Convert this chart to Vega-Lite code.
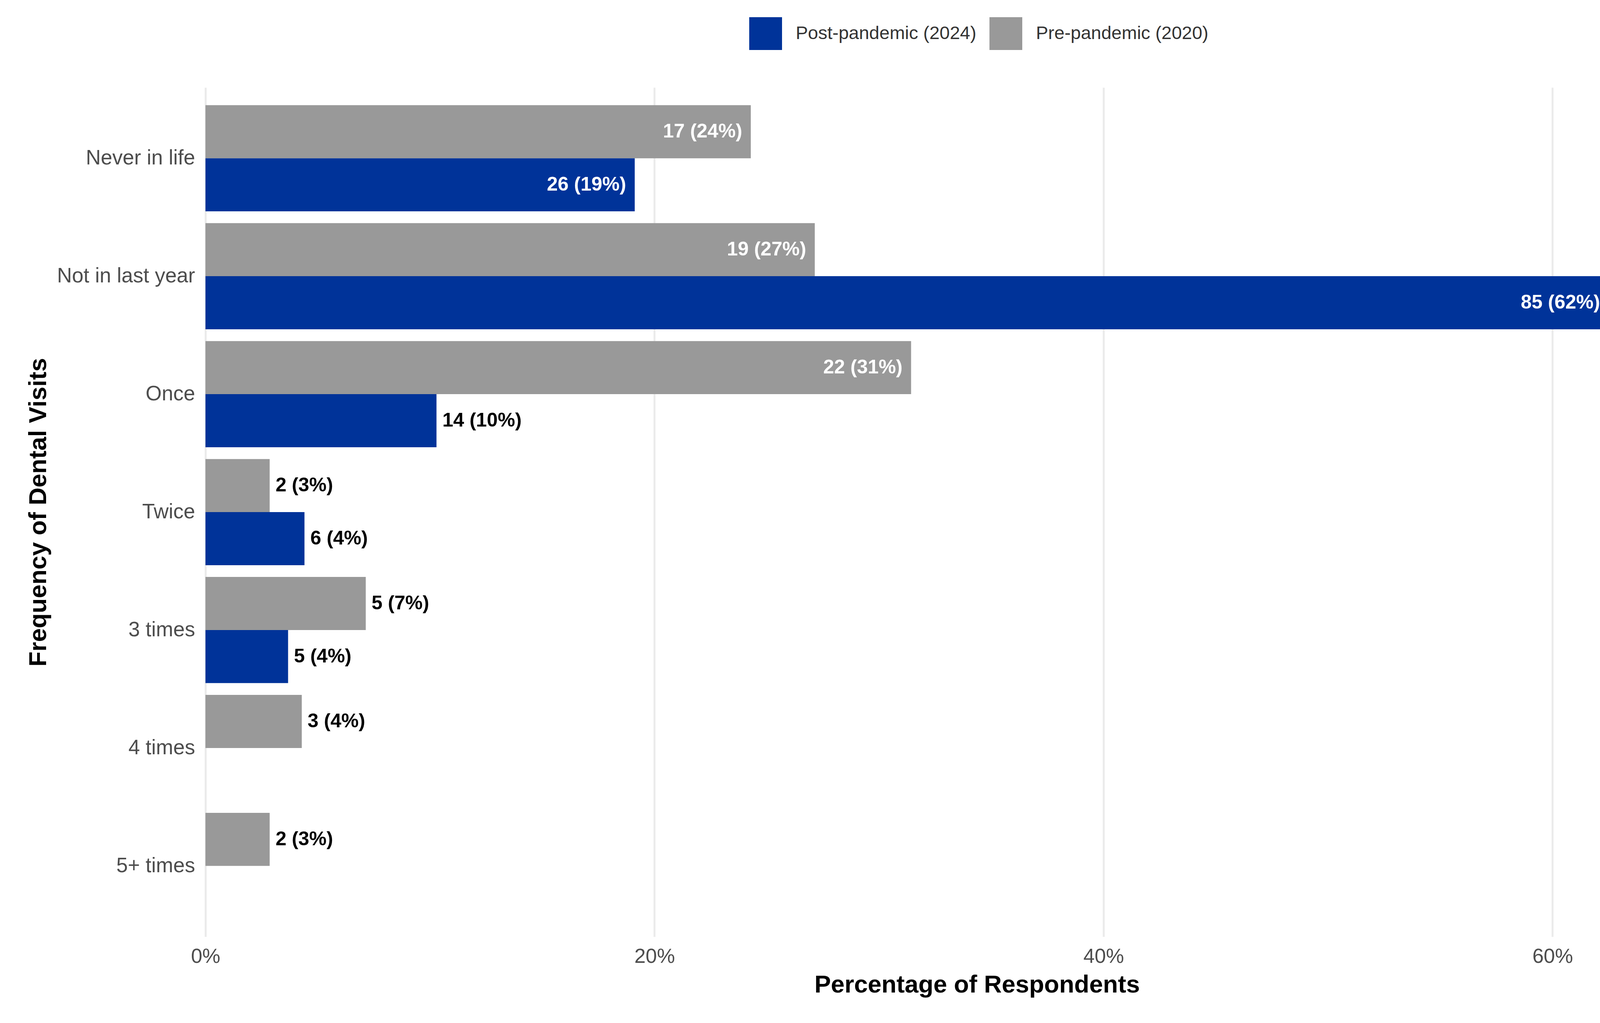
{
  "$schema": "https://vega.github.io/schema/vega-lite/v6.json",
  "autosize": {"type": "none"},
  "padding": {"left": 526, "top": 224, "right": 49, "bottom": 221},
  "width": 3645,
  "height": 2174,
  "background": "white",
  "config": {"view": {"stroke": null}, "font": "Liberation Sans"},
  "data": {
    "values": [
      {"frequency": "Never in life", "period": "Pre-pandemic (2020)", "count": 17, "pct": 24.29, "label": "17 (24%)"},
      {"frequency": "Never in life", "period": "Post-pandemic (2024)", "count": 26, "pct": 19.12, "label": "26 (19%)"},
      {"frequency": "Not in last year", "period": "Pre-pandemic (2020)", "count": 19, "pct": 27.14, "label": "19 (27%)"},
      {"frequency": "Not in last year", "period": "Post-pandemic (2024)", "count": 85, "pct": 62.5, "label": "85 (62%)"},
      {"frequency": "Once", "period": "Pre-pandemic (2020)", "count": 22, "pct": 31.43, "label": "22 (31%)"},
      {"frequency": "Once", "period": "Post-pandemic (2024)", "count": 14, "pct": 10.29, "label": "14 (10%)"},
      {"frequency": "Twice", "period": "Pre-pandemic (2020)", "count": 2, "pct": 2.86, "label": "2 (3%)"},
      {"frequency": "Twice", "period": "Post-pandemic (2024)", "count": 6, "pct": 4.41, "label": "6 (4%)"},
      {"frequency": "3 times", "period": "Pre-pandemic (2020)", "count": 5, "pct": 7.14, "label": "5 (7%)"},
      {"frequency": "3 times", "period": "Post-pandemic (2024)", "count": 5, "pct": 3.68, "label": "5 (4%)"},
      {"frequency": "4 times", "period": "Pre-pandemic (2020)", "count": 3, "pct": 4.29, "label": "3 (4%)"},
      {"frequency": "5+ times", "period": "Pre-pandemic (2020)", "count": 2, "pct": 2.86, "label": "2 (3%)"}
    ]
  },
  "encoding": {
    "y": {
      "field": "frequency",
      "type": "nominal",
      "sort": ["Never in life", "Not in last year", "Once", "Twice", "3 times", "4 times", "5+ times"],
      "scale": {"paddingInner": 0.1, "paddingOuter": 0.15},
      "axis": {
        "title": "Frequency of Dental Visits",
        "titleFontSize": 63,
        "titleFontWeight": "bold",
        "titleColor": "#000000",
        "titleX": -409,
        "titleY": 1087,
        "titleAngle": 270,
        "titleBaseline": "alphabetic",
        "titleAlign": "center",
        "labelFontSize": 53,
        "labelColor": "#4D4D4D",
        "labelPadding": 27,
        "labelLimit": 0,
        "ticks": false,
        "domain": false,
        "grid": false
      }
    },
    "yOffset": {
      "field": "period",
      "type": "nominal",
      "sort": ["Pre-pandemic (2020)", "Post-pandemic (2024)"],
      "scale": {"paddingInner": 0, "paddingOuter": 0}
    },
    "x": {
      "field": "pct",
      "type": "quantitative",
      "scale": {"domain": [0, 63.42], "nice": false, "zero": true},
      "axis": {
        "values": [0, 20, 40, 60],
        "labelExpr": "datum.value + '%'",
        "title": "Percentage of Respondents",
        "titleFontSize": 63,
        "titleFontWeight": "bold",
        "titleColor": "#000000",
        "titleX": 1975,
        "titleY": 142,
        "titleBaseline": "alphabetic",
        "titleAlign": "center",
        "labelFontSize": 52,
        "labelColor": "#4D4D4D",
        "labelPadding": 25,
        "labelFlush": false,
        "labelOverlap": false,
        "domain": false,
        "ticks": false,
        "grid": true,
        "gridColor": "#EBEBEB",
        "gridWidth": 5
      }
    }
  },
  "layer": [
    {
      "mark": {"type": "bar"},
      "encoding": {
        "color": {
          "field": "period",
          "type": "nominal",
          "scale": {"domain": ["Post-pandemic (2024)", "Pre-pandemic (2020)"], "range": ["#003399", "#999999"]},
          "legend": {
            "orient": "none",
            "legendX": 1392,
            "legendY": -180,
            "direction": "horizontal",
            "title": null,
            "symbolType": "square",
            "symbolSize": 7056,
            "symbolStrokeWidth": 0,
            "symbolOpacity": 1,
            "labelFontSize": 47,
            "labelColor": "#333333",
            "labelOffset": 35,
            "columnPadding": 33,
            "padding": 0,
            "labelLimit": 0
          }
        }
      }
    },
    {
      "transform": [{"filter": "datum.pct > 15"}],
      "mark": {"type": "text", "align": "right", "baseline": "middle", "dx": -22, "color": "#FFFFFF", "fontSize": 50, "fontWeight": "bold"},
      "encoding": {"text": {"field": "label", "type": "nominal"}}
    },
    {
      "transform": [{"filter": "datum.pct <= 15"}],
      "mark": {"type": "text", "align": "left", "baseline": "middle", "dx": 15, "color": "#000000", "fontSize": 50, "fontWeight": "bold"},
      "encoding": {"text": {"field": "label", "type": "nominal"}}
    }
  ]
}
